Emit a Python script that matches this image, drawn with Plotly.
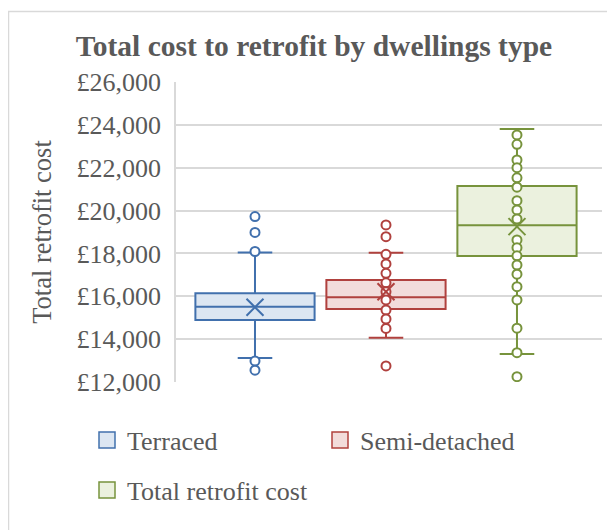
import plotly.graph_objects as go

# ---- data ----
series = ["Terraced", "Semi-detached", "Total retrofit cost"]
q1 = [14890, 15410, 17880]
median = [15510, 15950, 19310]
q3 = [16140, 16760, 21150]
lower_whisker = [13120, 14070, 13310]
upper_whisker = [18040, 18030, 23810]
means = [15490, 16210, 19250]

points_terraced = [19720, 18980, 18090, 12980, 12550]
points_semi = [19330, 18780, 17960, 17510, 17070, 16630, 16210, 15830, 15360,
               14940, 14500, 12750]
points_total = [23530, 23090, 22360, 22000, 21530, 21090, 20460, 20030, 19610,
                18630, 18270, 17890, 17460, 17030, 16450, 15830, 14510, 13370,
                12250]
points = [points_terraced, points_semi, points_total]

line_colors = ["#4170AD", "#B0413E", "#77933C"]
fill_colors = ["#DCE6F2", "#F2DCDB", "#EBF1DE"]
legends = ["legend", "legend", "legend2"]

FONT = "Liberation Serif"
TXT = "#595959"

# the page body has an 8px margin, so the figure is sized to the rest
OFF = 8
W, H = 615 - OFF, 530 - OFF

fig = go.Figure()
for i, name in enumerate(series):
    fig.add_trace(go.Box(
        x=[name], q1=[q1[i]], median=[median[i]], q3=[q3[i]],
        lowerfence=[lower_whisker[i]], upperfence=[upper_whisker[i]],
        name=name, boxpoints=False, fillcolor=fill_colors[i],
        line=dict(color=line_colors[i], width=2), whiskerwidth=0.29,
        showlegend=False, hoverinfo="skip",
    ))
for i, name in enumerate(series):
    fig.add_trace(go.Scatter(
        x=[name] * len(points[i]), y=points[i], mode="markers",
        marker=dict(symbol="circle", size=9, color="white",
                    line=dict(color=line_colors[i], width=2)),
        showlegend=False, hoverinfo="skip",
    ))
    fig.add_trace(go.Scatter(
        x=[name], y=[means[i]], mode="markers",
        marker=dict(symbol="x-thin", size=17,
                    line=dict(color=line_colors[i], width=2)),
        showlegend=False, hoverinfo="skip",
    ))
# legend entries (square swatches like the reference)
for i, name in enumerate(series):
    fig.add_trace(go.Scatter(
        x=[None], y=[None], mode="markers", name=name, legend=legends[i],
        marker=dict(symbol="square", size=16, color=fill_colors[i],
                    line=dict(color=line_colors[i], width=1.5)),
        hoverinfo="skip",
    ))

# plot area in page pixels: x 176..602, y 82..382
L, R = 176 - OFF, 615 - 602
T, B = 82 - OFF, 530 - 382
PW = W - L - R
PH = H - T - B


def px_x(p):
    return (p - OFF - L) / PW


def px_y(p):
    return (H - B - (p - OFF)) / PH


fig.update_layout(
    width=W, height=H,
    margin=dict(l=L, r=R, t=T, b=B),
    paper_bgcolor="white", plot_bgcolor="white",
    font=dict(family=FONT, size=26, color=TXT),
    title=dict(text="<b>Total cost to retrofit by dwellings type</b>",
               font=dict(family=FONT, size=29.5, color=TXT),
               x=(314 - OFF) / W, xanchor="center", xref="container",
               y=1 - (46 - OFF) / H, yanchor="middle", yref="container"),
    boxgap=0.09, boxgroupgap=0,
    showlegend=True,
    legend=dict(orientation="h", x=px_x(87), xanchor="left",
                y=px_y(440), yanchor="middle", entrywidth=188,
                entrywidthmode="pixels", font=dict(size=26, color=TXT),
                bgcolor="rgba(0,0,0,0)"),
    legend2=dict(orientation="h", x=px_x(87), xanchor="left",
                 y=px_y(490), yanchor="middle",
                 font=dict(size=26, color=TXT), bgcolor="rgba(0,0,0,0)"),
    xaxis=dict(type="category", categoryorder="array", categoryarray=series,
               range=[-0.603, 2.649], showticklabels=False, showgrid=False,
               zeroline=False, showline=False, ticks=""),
    yaxis=dict(range=[12000, 26000], dtick=2000, tickprefix="£",
               tickformat=",.0f", showgrid=True, gridcolor="#D9D9D9",
               gridwidth=1.5, zeroline=False, showline=True,
               linecolor="#D9D9D9", linewidth=1.5, ticks="",
               ticklabelstandoff=8,
               title=dict(text="Total retrofit cost", standoff=17,
                          font=dict(size=26.5, color=TXT)),
               tickfont=dict(size=26, color=TXT)),
    shapes=[dict(type="rect", xref="paper", yref="paper",
                 x0=px_x(8.5), x1=px_x(640), y0=px_y(560), y1=px_y(11.5),
                 line=dict(color="#D9D9D9", width=1.5), layer="below")],
)

fig.write_html("out.html")
